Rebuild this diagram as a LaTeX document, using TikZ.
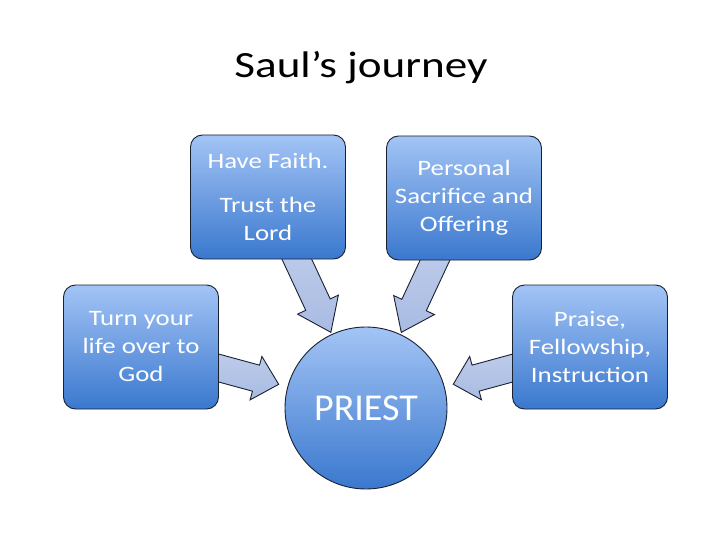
\documentclass[tikz,border=0pt]{standalone}
\usepackage{fontspec}
\setmainfont{Carlito}[FakeStretch=1.22]
\newfontfamily\hubfont{Carlito}
\usetikzlibrary{calc,backgrounds}

\definecolor{boxtop}{RGB}{163,196,245}
\definecolor{boxbot}{RGB}{58,120,206}
\definecolor{flowtop}{RGB}{190,204,234}
\definecolor{flowbot}{RGB}{168,187,226}
\definecolor{rim}{RGB}{25,32,48}

\begin{document}
\begin{tikzpicture}[x=1pt, y=-1pt,
		box/.style  = {rectangle, rounded corners=12pt, draw=rim, line width=0.9pt, top color=boxtop, bottom color=boxbot, minimum width=155pt, minimum height=124pt, inner sep=0pt, align=center, text=white, font=\fontsize{22}{28}\selectfont},
		hub/.style  = {circle, draw=rim, line width=0.9pt, top color=boxtop, bottom color=boxbot, minimum size=162pt, inner sep=0pt, text=white, font=\hubfont\fontsize{38}{38}\selectfont},
		flow/.style = {draw=rim, line width=0.9pt, top color=flowtop, bottom color=flowbot, line join=miter},
		head/.style = {font=\fontsize{37}{37}\selectfont}
		]
		
		\useasboundingbox (0,0) rectangle (720,540);
		
		% === === Nodes === ===
		\node[head]	(title)		at	(361, 68)		{Saul’s journey};
		\node[box]	(faith)		at	(268, 197)		{Have Faith.\\[16pt]Trust the\\Lord};
		\node[box]	(offer)		at	(464, 198)		{Personal\\Sacrifice and\\Offering};
		\node[box]	(turn)		at	(141, 347)		{Turn your\\life over to\\God};
		\node[box]	(praise)	at	(590, 347)		{Praise,\\Fellowship,\\Instruction};
		\node[hub]	(priest)	at	(366, 408)		{PRIEST};
		
		% === === Arrows === ===
		\begin{scope}[on background layer]
		\foreach \src/\gap in {faith/2pt, offer/2pt, turn/9pt, praise/9pt} {
			\path (\src) -- (priest) coordinate[pos=0] (\src-a) coordinate[pos=1] (\src-b);
			\coordinate (\src-t) at ($(\src-b)!\gap!(\src-a)$);
			\coordinate (\src-e) at ($(\src-a)!-9pt!(\src-t)$);
			\coordinate (\src-h) at ($(\src-a)!0.62!(\src-t)$);
			\draw[flow] ($(\src-e)!13.5pt!90:(\src-t)$) -- ($(\src-h)!13.5pt!90:(\src-t)$) -- ($(\src-h)!22.5pt!90:(\src-t)$)
				-- (\src-t) -- ($(\src-h)!22.5pt!-90:(\src-t)$) -- ($(\src-h)!13.5pt!-90:(\src-t)$) -- ($(\src-e)!13.5pt!-90:(\src-t)$) -- cycle;
		}
		\end{scope}
		
	\end{tikzpicture}
\end{document}
